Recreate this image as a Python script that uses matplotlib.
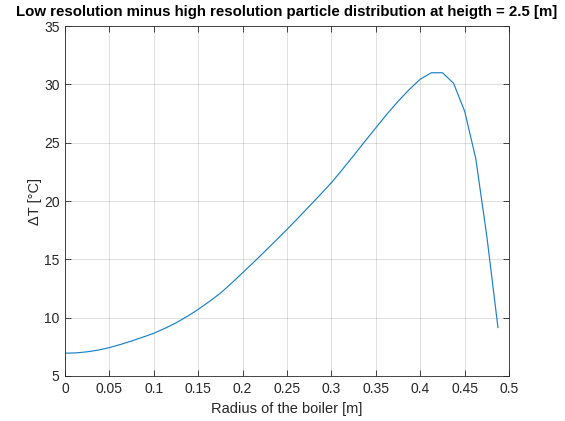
import matplotlib
matplotlib.use("Agg")
import matplotlib.pyplot as plt
import numpy as np

# radius samples [m] and temperature difference [C]
radius = [0.0, 0.0125, 0.025, 0.0375, 0.05, 0.0625, 0.075, 0.0875, 0.1, 0.1125,
          0.125, 0.1375, 0.15, 0.1625, 0.175, 0.1875, 0.2, 0.2125, 0.225, 0.2375,
          0.25, 0.2625, 0.275, 0.2875, 0.3, 0.3125, 0.325, 0.3375, 0.35, 0.3625,
          0.375, 0.3875, 0.4, 0.4125, 0.425, 0.4375, 0.45, 0.4625, 0.475, 0.4875]
delta_t = [6.95, 6.98, 7.07, 7.22, 7.43, 7.70, 8.00, 8.32, 8.66, 9.08,
           9.55, 10.10, 10.71, 11.38, 12.10, 12.95, 13.85, 14.75, 15.68, 16.62,
           17.57, 18.55, 19.55, 20.55, 21.57, 22.72, 23.90, 25.10, 26.28, 27.45,
           28.55, 29.55, 30.45, 31.0, 31.0, 30.1, 27.7, 23.65, 16.95, 9.15]

xticks = [0, 0.05, 0.1, 0.15, 0.2, 0.25, 0.3, 0.35, 0.4, 0.45, 0.5]
xticklabels = ['0', '0.05', '0.1', '0.15', '0.2', '0.25', '0.3', '0.35', '0.4', '0.45', '0.5']
yticks = [5, 10, 15, 20, 25, 30, 35]

plt.rcParams['font.family'] = ['Liberation Sans', 'DejaVu Sans']

fig = plt.figure(figsize=(5.65, 4.21), dpi=100)
ax = fig.add_axes([0.115, 0.107, 0.786, 0.831])

ax.plot(radius, delta_t, color='#1a80c8', lw=0.85)

ax.set_xlim(0, 0.5)
ax.set_ylim(5, 35)
ax.set_xticks(xticks)
ax.set_xticklabels(xticklabels)
ax.set_yticks(yticks)

axcol = '#262626'
ax.grid(True, color='#262626', alpha=0.17, lw=0.6)
ax.set_axisbelow(True)
ax.tick_params(direction='in', length=4, width=0.6, colors=axcol, labelcolor=axcol,
               labelsize=10, top=True, right=True, pad=4)
for s in ax.spines.values():
    s.set_color(axcol)
    s.set_linewidth(0.6)

ax.set_xlabel('Radius of the boiler [m]', fontsize=10.5, color=axcol, labelpad=5)
ax.set_ylabel('ΔT [°C]', fontsize=10.5, color=axcol, labelpad=1)
ax.set_title('Low resolution minus high resolution particle distribution at heigth = 2.5 [m]',
             fontsize=10.8, fontweight='bold', color='black', pad=7)

fig.savefig('out.png', dpi=100)
